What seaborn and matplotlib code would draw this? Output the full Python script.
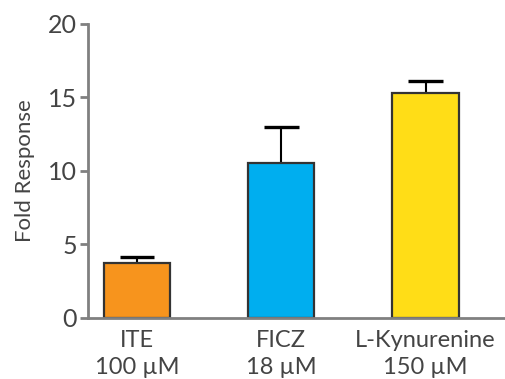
import matplotlib
matplotlib.use("Agg")
import matplotlib.pyplot as plt
import seaborn as sns
import pandas as pd

compounds = ["ITE\n100 µM", "FICZ\n18 µM", "L-Kynurenine\n150 µM"]
fold_response = [3.75, 10.55, 15.3]
err_upper = [0.4, 2.45, 0.8]
bar_colors = ["#F7941D", "#00AEEF", "#FFDD17"]

sns.set_style("white")
plt.rcParams["font.family"] = ["Lato", "DejaVu Sans"]

df = pd.DataFrame({"compound": compounds, "fold": fold_response})
df["top"] = df["fold"] + pd.Series(err_upper)

fig = plt.figure(figsize=(5.05, 3.79), dpi=100)
ax = fig.add_axes([0.174, 0.161, 0.826, 0.776])

sns.barplot(data=df, x="compound", y="fold", hue="compound", palette=bar_colors,
            legend=False, width=0.46, edgecolor="#333333", linewidth=1.6, ax=ax,
            saturation=1, zorder=2)

# upper-only error bars: stem from bar top, cap at top
xs = range(len(compounds))
ax.vlines(xs, df["fold"], df["top"], color="black", linewidth=1.5, zorder=1)
ax.hlines(df["top"], [x - 0.12 for x in xs], [x + 0.12 for x in xs],
          color="black", linewidth=2.4, zorder=1)

ax.set_ylim(0, 20)
ax.set_xlim(-0.34, 2.55)
ax.set_yticks([0, 5, 10, 15, 20])
ax.set_xlabel("")
ax.set_ylabel("Fold Response", fontsize=16, color="#444444", labelpad=9)

for side in ["top", "right"]:
    ax.spines[side].set_visible(False)
for side in ["left", "bottom"]:
    ax.spines[side].set_color("#808080")
    ax.spines[side].set_linewidth(2)

ax.tick_params(axis="y", length=6, width=2, color="#808080", labelsize=18,
               labelcolor="#444444", left=True, pad=2)
ax.tick_params(axis="x", length=0, labelsize=17, labelcolor="#444444", pad=9)
for lbl in ax.get_xticklabels():
    lbl.set_linespacing(1.3)

fig.savefig("out.png", dpi=100)
